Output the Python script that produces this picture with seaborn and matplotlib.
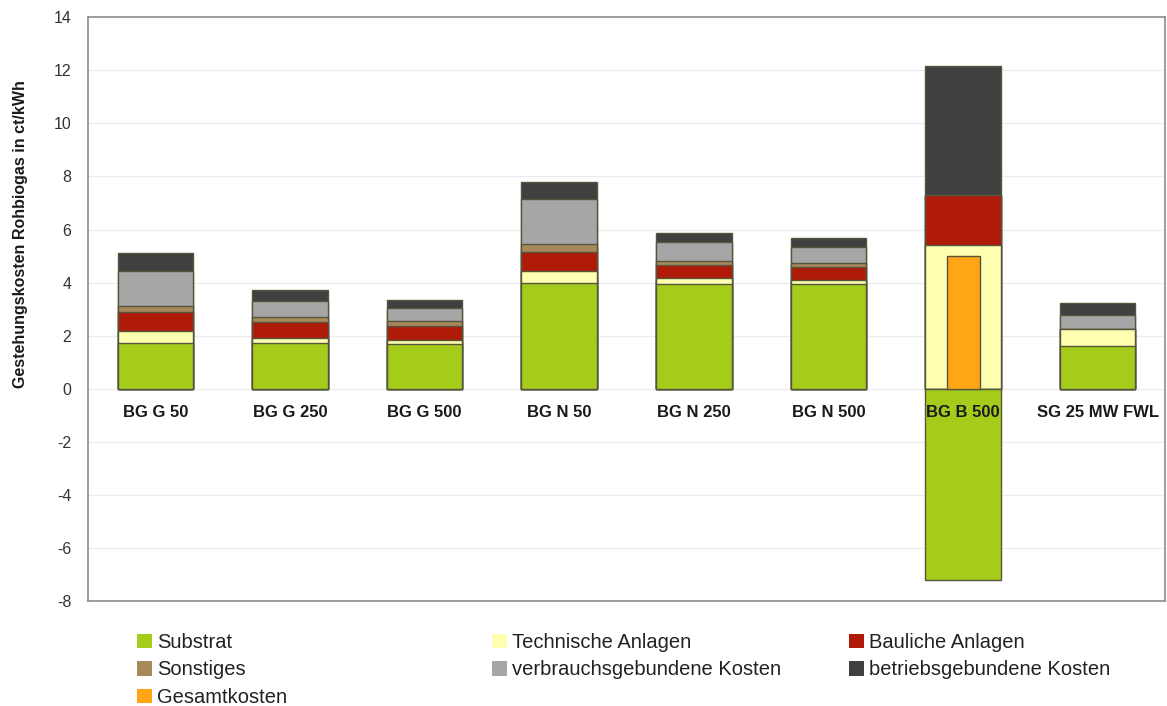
import numpy as np
import matplotlib
matplotlib.use("Agg")
import matplotlib.pyplot as plt
from matplotlib.patches import Patch
import seaborn as sns

# ---------------- data ----------------
categories = ["BG G 50", "BG G 250", "BG G 500", "BG N 50", "BG N 250",
              "BG N 500", "BG B 500", "SG 25 MW FWL"]
substrat   = [1.74, 1.72, 1.69, 4.00, 3.95, 3.94, -7.20, 1.60]
technische = [0.42, 0.21, 0.13, 0.42, 0.22, 0.16, 5.42, 0.65]
bauliche   = [0.75, 0.58, 0.56, 0.75, 0.50, 0.50, 1.88, 0.00]
sonstiges  = [0.21, 0.19, 0.19, 0.29, 0.16, 0.15, 0.00, 0.00]
verbrauch  = [1.30, 0.61, 0.49, 1.68, 0.69, 0.61, 0.00, 0.54]
betrieb    = [0.68, 0.42, 0.29, 0.66, 0.36, 0.31, 4.86, 0.43]
gesamt_categories = ["BG B 500"]
gesamt_values = [5.0]

series_names = ["Substrat", "Technische Anlagen", "Bauliche Anlagen",
                "Sonstiges", "verbrauchsgebundene Kosten",
                "betriebsgebundene Kosten"]
gesamt_name = "Gesamtkosten"
yticks = list(range(-8, 15, 2))
ylabel = "Gestehungskosten Rohbiogas in ct/kWh"

colors = ["#A5CC1A", "#FFFFB0", "#B01A08", "#A8895A", "#A6A6A6", "#404040"]
gesamt_color = "#FFA516"
edge = "#55553E"

# ---------------- style ----------------
sns.set_theme(style="white")
plt.rcParams["font.family"] = ["Liberation Sans", "DejaVu Sans"]

fig = plt.figure(figsize=(11.67, 7.06), dpi=100)
ax = fig.add_axes([88 / 1167, 1 - 601 / 706, (1165 - 88) / 1167, (601 - 17.3) / 706])

layers = np.array([substrat, technische, bauliche, sonstiges, verbrauch, betrieb])
pos = np.clip(layers, 0, None)
cum = pos.cumsum(axis=0)

bw = 0.56
for k in reversed(range(len(series_names))):
    sns.barplot(x=categories, y=cum[k], order=categories, color=colors[k],
                saturation=1, width=bw, edgecolor=edge, linewidth=1.0,
                errorbar=None, ax=ax, zorder=3)

# negative substrat part
neg_cats = [c for c, v in zip(categories, substrat) if v < 0]
neg_vals = [v for v in substrat if v < 0]
sns.barplot(x=neg_cats, y=neg_vals, order=categories, color=colors[0],
            saturation=1, width=bw, edgecolor=edge, linewidth=1.0,
            errorbar=None, ax=ax, zorder=3)

# Gesamtkosten
sns.barplot(x=gesamt_categories, y=gesamt_values, order=categories,
            color=gesamt_color, saturation=1, width=0.245, edgecolor=edge,
            linewidth=1.0, errorbar=None, ax=ax, zorder=4)

ax.set_xlim(-0.5, len(categories) - 0.5)
ax.set_ylim(-8, 14)
ax.set_yticks(yticks)
ax.set_yticklabels([str(t) for t in yticks])
ax.tick_params(axis="y", length=0, pad=12, labelsize=11.5, labelcolor="#333333")
ax.set_xticks([])
ax.set_xlabel("")
ax.set_axisbelow(True)
ax.yaxis.grid(True, color="#ececec", linewidth=0.9)

for s in ax.spines.values():
    s.set_visible(True)
    s.set_color("#8c8c8c")
    s.set_linewidth(1.2)

for i, c in enumerate(categories):
    ax.text(i, -0.88, c, ha="center", va="center", fontsize=12,
            fontweight="bold", color="#1a1a1a", zorder=6)

ax.set_ylabel(ylabel, fontsize=11.5, fontweight="bold", color="#1a1a1a")
ax.yaxis.set_label_coords(-0.0557, 0.628)

# ---------------- legend ----------------
def patch(col, lab):
    return Patch(facecolor=col, edgecolor="none", label=lab)

cols = [
    ([patch(colors[0], series_names[0]), patch(colors[3], series_names[3]),
      patch(gesamt_color, gesamt_name)], 137),
    ([patch(colors[1], series_names[1]), patch(colors[4], series_names[4])], 492),
    ([patch(colors[2], series_names[2]), patch(colors[5], series_names[5])], 849),
]
for hs, x0 in cols:
    fig.legend(handles=hs, loc="upper left",
               bbox_to_anchor=(x0 / 1167, 1 - 633 / 706),
               frameon=False, fontsize=14.5, handlelength=0.75,
               handleheight=0.75, handletextpad=0.25, labelspacing=0.42,
               borderpad=0, borderaxespad=0, labelcolor="#222222")

fig.savefig("out.png", dpi=100)
